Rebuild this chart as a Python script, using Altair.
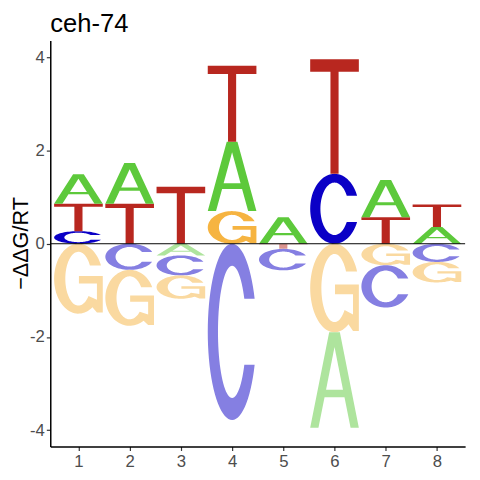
import math
import altair as alt
import pandas as pd

positions = [1, 2, 3, 4, 5, 6, 7, 8]
A_vals = [0.63, 0.87, -0.25, 1.49, 0.57, -2.05, 0.80, 0.36]
C_vals = [0.27, -0.56, -0.43, -3.78, -0.46, 1.50, -0.91, -0.39]
G_vals = [-1.50, -1.20, -0.50, 0.70, 0.00, -1.90, -0.46, -0.44]
T_vals = [0.59, 0.86, 1.22, 1.63, -0.11, 2.46, 0.57, 0.48]
y_ticks = [-4, -2, 0, 2, 4]
x_ticks = positions
chart_title = "ceh-74"
y_title = "\u2212\u0394\u0394G/RT"

# ---- colours (style) ----
keys = ["A+", "A-", "C+", "C-", "G+", "G-", "T+", "T-"]
cols = ["#5DC93B", "#AEE49D", "#0B00C6", "#857FE2",
        "#F6B441", "#FAD9A0", "#B8271F", "#DB938F"]

# ---- glyph outlines in a unit box (style) ----
def arc(rx, ry, a0, a1, n):
    pts = []
    for i in range(n + 1):
        t = math.radians(a0 + (a1 - a0) * i / n)
        pts.append((0.5 + rx * math.cos(t), 0.5 + ry * math.sin(t)))
    return pts

def glyph_C():
    a = 22
    rxi, ryi = 0.29, 0.375
    b = math.degrees(math.asin(0.5 * math.sin(math.radians(a)) / ryi))
    return arc(0.5, 0.5, a, 360 - a, 70) + arc(rxi, ryi, 360 - b, b, 70)

def glyph_G():
    a = 22
    rxi, ryi = 0.27, 0.385
    b = math.degrees(math.asin(0.5 * math.sin(math.radians(a)) / ryi))
    pts = arc(0.5, 0.5, a, 305, 70)
    pts += [(0.88, 0.015), (1.0, 0.015), (1.0, 0.54), (0.51, 0.54),
            (0.51, 0.43), (0.88, 0.43), (0.88, 0.2)]
    pts += arc(rxi, ryi, 320, b, 70)
    return pts

def glyph_A():
    return [(0, 0), (0.39, 1), (0.61, 1), (1, 0), (0.83, 0),
            (0.705, 0.32), (0.295, 0.32), (0.17, 0)]

def hole_A():
    return [(0.326, 0.40), (0.5, 0.846), (0.674, 0.40)]

def glyph_T():
    return [(0, 1), (1, 1), (1, 0.89), (0.5835, 0.89), (0.5835, 0),
            (0.4165, 0), (0.4165, 0.89), (0, 0.89)]

glyphs = {"A": glyph_A(), "C": glyph_C(), "G": glyph_G(), "T": glyph_T()}

rows = []
inst = [0]

def add(letter, p, lo, hi, sign):
    def emit(pts, part):
        inst[0] += 1
        for j, (gx, gy) in enumerate(pts):
            rows.append({"inst": inst[0], "pos": p, "key": letter + sign,
                         "lo": lo, "hi": hi, "gx": gx, "gy": gy,
                         "idx": j, "part": part})
    emit(glyphs[letter], "body")
    if letter == "A":
        emit(hole_A(), "hole")

for i, p in enumerate(positions):
    vals = {"A": A_vals[i], "C": C_vals[i], "G": G_vals[i], "T": T_vals[i]}
    pos_l = sorted([(v, k) for k, v in vals.items() if v > 0])
    neg_l = sorted([(-v, k) for k, v in vals.items() if v < 0])
    base = 0.0
    for v, k in pos_l:
        add(k, p, base, base + v, "+")
        base += v
    base = 0.0
    for v, k in neg_l:
        add(k, p, base - v, base, "-")
        base -= v

df = pd.DataFrame(rows)

xsc = alt.Scale(domain=[0.45, 8.55], nice=False, zero=False)
ysc = alt.Scale(domain=[-4.35, 4.36], nice=False, zero=False)

xaxis = alt.Axis(values=x_ticks, labelExpr="'' + datum.value", title=None,
                 grid=False, labelPadding=3, labelAngle=0)
yaxis = alt.Axis(values=y_ticks, labelExpr="'' + datum.value", title=y_title,
                 grid=False, labelPadding=2, titleFont="Liberation Sans",
                 titleFontSize=22, titleFontWeight="normal", titleColor="black",
                 titleX=-23, titleY=206, titleAlign="center",
                 titleBaseline="alphabetic", titleAngle=270)

base_chart = alt.Chart(df).transform_calculate(
    xx="datum.pos - 0.475 + datum.gx * 0.95",
    yy="datum.lo + datum.gy * (datum.hi - datum.lo)",
)

letters = base_chart.transform_filter("datum.part == 'body'").mark_line(
    filled=True, strokeWidth=0, interpolate="linear"
).encode(
    x=alt.X("xx:Q", scale=xsc, axis=xaxis),
    y=alt.Y("yy:Q", scale=ysc, axis=yaxis),
    detail="inst:N",
    order="idx:Q",
    color=alt.Color("key:N", scale=alt.Scale(domain=keys, range=cols), legend=None),
)

holes = base_chart.transform_filter("datum.part == 'hole'").mark_line(
    filled=True, color="white", strokeWidth=0, interpolate="linear"
).encode(
    x=alt.X("xx:Q", scale=xsc),
    y=alt.Y("yy:Q", scale=ysc),
    detail="inst:N",
    order="idx:Q",
)

zero = alt.Chart(pd.DataFrame({"v": [0]})).mark_rule(
    color="black", strokeWidth=1
).encode(y=alt.datum(0))

chart = alt.layer(letters, holes, zero).properties(
    width=422, height=413,
    title=alt.TitleParams(chart_title, anchor="start", frame="group",
                          font="Liberation Sans", fontSize=26,
                          fontWeight="normal", color="black", offset=4),
    autosize=alt.AutoSizeParams(type="none"),
    padding={"left": 43, "top": 29, "right": 7, "bottom": 30},
).configure_view(stroke=None).configure_axis(
    domainColor="black", domainWidth=1.5, tickColor="#333333", tickWidth=1.2,
    tickSize=4, labelColor="#4D4D4D", labelFont="Liberation Sans",
    labelFontSize=17,
)

chart.save("out.html", embed_options={"renderer": "svg", "actions": False})
